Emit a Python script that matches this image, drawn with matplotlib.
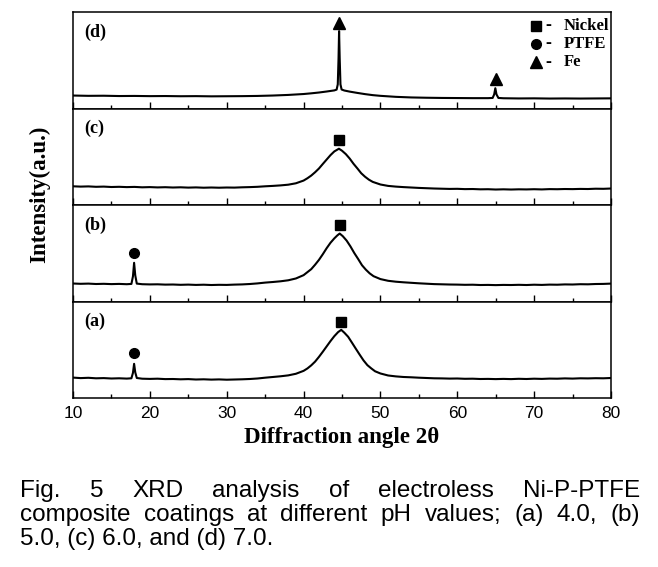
import matplotlib
matplotlib.use("Agg")
import matplotlib.pyplot as plt
from matplotlib.ticker import MultipleLocator

# ---------------- data (intensity in arbitrary units) ----------------
xa = [10, 11, 12, 13, 14, 15, 16, 17, 17.6, 17.8, 17.95, 18.1, 18.3, 19, 20, 21, 22, 23, 24, 25,
      26, 27, 28, 29, 30, 31, 32, 33, 34, 35, 36, 37, 38, 39, 40, 40.5, 41, 41.5, 42, 42.5, 43,
      43.5, 44, 44.5, 44.9, 45.3, 45.8, 46.3, 46.8, 47.3, 47.8, 48.3, 48.8, 49.3, 50, 51, 52, 53,
      54, 55, 56, 57, 58, 59, 60, 61, 62, 63, 64, 65, 66, 67, 68, 69, 70, 71, 72, 73, 74, 75, 76,
      77, 78, 79, 80]
ya = [20.3, 19.8, 20.1, 19.6, 19.8, 19.4, 19.6, 19.3, 19.6, 25.0, 34.0, 25.5, 19.9, 19.2, 19.0,
      19.2, 18.8, 18.9, 18.6, 18.8, 18.4, 18.6, 18.3, 18.5, 18.2, 18.4, 18.6, 18.9, 19.4, 20.2,
      20.9, 21.6, 22.5, 24.1, 27.0, 29.4, 32.5, 36.2, 40.9, 46.0, 51.3, 56.6, 61.5, 65.6, 67.8,
      65.0, 60.9, 55.0, 49.0, 43.1, 37.4, 32.7, 29.5, 26.6, 24.4, 22.4, 21.5, 20.9, 20.6, 20.2,
      19.9, 19.6, 19.5, 19.3, 19.4, 19.1, 19.2, 18.9, 19.0, 18.8, 19.0, 18.8, 19.1, 18.9, 19.2,
      19.0, 19.3, 19.2, 19.5, 19.3, 19.6, 19.5, 19.7, 19.6, 19.9]

xb = [10, 11, 12, 13, 14, 15, 16, 17, 17.6, 17.8, 17.95, 18.1, 18.3, 19, 20, 21, 22, 23, 24, 25,
      26, 27, 28, 29, 30, 31, 32, 33, 34, 35, 36, 37, 38, 39, 40, 40.5, 41, 41.5, 42, 42.5, 43,
      43.5, 44, 44.4, 44.7, 45.1, 45.6, 46.1, 46.6, 47.1, 47.6, 48.1, 48.6, 49.1, 50, 51, 52, 53,
      54, 55, 56, 57, 58, 59, 60, 61, 62, 63, 64, 65, 66, 67, 68, 69, 70, 71, 72, 73, 74, 75, 76,
      77, 78, 79, 80]
yb = [17.9, 17.6, 17.8, 17.4, 17.6, 17.3, 17.5, 17.2, 17.5, 25.0, 38.5, 26.0, 17.8, 17.2, 17.0,
      17.1, 16.8, 16.9, 16.6, 16.8, 16.5, 16.7, 16.4, 16.6, 16.5, 16.8, 17.0, 17.4, 18.0, 18.8,
      19.4, 20.1, 21.1, 22.9, 26.2, 29.2, 32.2, 36.6, 41.4, 47.0, 53.0, 58.4, 62.8, 65.8, 67.6,
      65.0, 60.6, 54.8, 48.2, 42.3, 36.1, 31.7, 28.0, 25.2, 22.3, 20.6, 19.7, 19.1, 18.6, 18.1,
      17.7, 17.3, 17.1, 16.9, 16.8, 16.6, 16.7, 16.4, 16.5, 16.3, 16.5, 16.4, 16.6, 16.4, 16.7,
      16.5, 16.8, 16.7, 17.0, 16.9, 17.2, 17.1, 17.4, 17.5, 17.8]

xc = [10, 11, 12, 13, 14, 15, 16, 17, 18, 19, 20, 21, 22, 23, 24, 25, 26, 27, 28, 29, 30, 31, 32,
      33, 34, 35, 36, 37, 38, 39, 40, 40.5, 41, 41.5, 42, 42.5, 43, 43.5, 44, 44.6, 45, 45.5, 46,
      46.5, 47, 47.5, 48, 48.5, 49, 50, 51, 52, 53, 54, 55, 56, 57, 58, 59, 60, 61, 62, 63, 64,
      65, 66, 67, 68, 69, 70, 71, 72, 73, 74, 75, 76, 77, 78, 79, 80]
yc = [18.6, 18.3, 18.5, 18.1, 18.3, 17.9, 18.1, 17.8, 18.0, 17.6, 17.8, 17.5, 17.7, 17.4, 17.6,
      17.3, 17.5, 17.2, 17.4, 17.2, 17.4, 17.3, 17.6, 17.8, 18.1, 18.6, 19.0, 19.5, 20.2, 21.6,
      24.3, 26.6, 29.3, 32.6, 36.3, 40.8, 45.2, 49.6, 53.3, 56.0, 54.0, 50.6, 46.2, 41.0, 36.4,
      31.6, 28.1, 25.2, 23.0, 20.4, 19.0, 18.3, 17.8, 17.4, 17.0, 16.7, 16.4, 16.2, 16.0, 16.1,
      15.8, 15.9, 15.6, 15.7, 15.4, 15.6, 15.4, 15.6, 15.5, 15.7, 15.5, 15.8, 15.7, 15.9, 15.8,
      16.0, 15.9, 16.2, 16.1, 16.4]

xd = [10, 12, 14, 16, 18, 20, 22, 24, 26, 28, 30, 32, 34, 36, 38, 40, 41, 42, 43, 44, 44.3,
      44.45, 44.55, 44.62, 44.7, 44.8, 44.95, 45.3, 46, 47, 48, 49, 50, 52, 54, 56, 58, 60, 62,
      64, 64.6, 64.8, 64.95, 65.1, 65.35, 66, 68, 70, 72, 74, 76, 78, 80]
yd = [12.9, 12.6, 12.7, 12.4, 12.5, 12.3, 12.4, 12.2, 12.3, 12.1, 12.2, 12.3, 12.5, 12.9, 13.5,
      14.4, 15.1, 15.9, 16.9, 18.0, 18.8, 24.0, 50.0, 77.0, 50.0, 24.0, 18.9, 17.9, 16.8, 15.5,
      14.3, 13.3, 12.6, 11.6, 11.0, 10.7, 10.5, 10.4, 10.3, 10.3, 10.5, 14.0, 20.2, 14.0, 10.5,
      10.2, 10.0, 10.1, 9.9, 10.0, 9.9, 10.0, 10.1]

panel_labels = ["(d)", "(c)", "(b)", "(a)"]
series = [(xd, yd), (xc, yc), (xb, yb), (xa, ya)]

# phase markers per panel: (2theta, height, marker)
markers = [
    [(44.62, 85, "^"), (65.0, 29, "^")],
    [(44.6, 64.5, "s")],
    [(18.0, 48, "o"), (44.7, 76.5, "s")],
    [(18.0, 45, "o"), (44.9, 76, "s")],
]
legend_names = ["Nickel", "PTFE", "Fe"]
legend_markers = ["s", "o", "^"]

xticks = [10, 20, 30, 40, 50, 60, 70, 80]

caption_lines = [
    "Fig. 5 XRD analysis of electroless Ni-P-PTFE",
    "composite coatings at different pH values; (a) 4.0, (b)",
    "5.0, (c) 6.0, and (d) 7.0.",
]

# ---------------- figure ----------------
W, H = 658, 567
fig = plt.figure(figsize=(W / 100, H / 100), dpi=100)
serif = "Liberation Serif"
sans = "Liberation Sans"

left_px, right_px = 73, 611
top_px, bottom_px = 12, 398
ph = (bottom_px - top_px) / 4.0

msize = {"s": 7, "o": 7, "^": 8}

axes = []
for i in range(4):
    y0 = top_px + i * ph
    ax = fig.add_axes([left_px / W, 1 - (y0 + ph) / H, (right_px - left_px) / W, ph / H])
    x, y = series[i]
    ax.plot(x, y, color="black", lw=1.5)
    ax.set_xlim(10, 80)
    ax.set_ylim(0, 96)
    ax.set_yticks([])
    ax.xaxis.set_major_locator(MultipleLocator(10))
    ax.xaxis.set_minor_locator(MultipleLocator(5))
    ax.tick_params(axis="x", which="major", direction="in", length=5, width=1, top=False)
    ax.tick_params(axis="x", which="minor", direction="in", length=3, width=1, top=False)
    for s in ax.spines.values():
        s.set_linewidth(1.1)
    if i < 3:
        ax.tick_params(axis="x", labelbottom=False)
    else:
        ax.set_xticks(xticks)
        ax.set_xticklabels([str(t) for t in xticks], fontfamily=sans, fontsize=12.5)
        ax.tick_params(axis="x", pad=6)
    ax.text(11.4, 76, panel_labels[i], fontfamily=serif, fontweight="bold", fontsize=13,
            ha="left", va="center")
    for (mx, my, mk) in markers[i]:
        ax.plot([mx], [my], marker=mk, color="black", ms=msize[mk], ls="none")
    axes.append(ax)

# legend inside top panel
axd = axes[0]
for k, (nm, mk) in enumerate(zip(legend_names, legend_markers)):
    yy = [82.5, 64.2, 45.8][k]
    axd.plot([70.25], [yy], marker=mk, color="black", ms=msize[mk], ls="none")
    axd.text(71.5, yy, "-", fontfamily=serif, fontweight="bold", fontsize=13, ha="left", va="center")
    axd.text(73.8, yy, nm, fontfamily=serif, fontweight="bold", fontsize=12, ha="left", va="center")

fig.text((left_px + right_px) / 2 / W, 1 - 438 / H, "Diffraction angle 2\u03b8",
         fontfamily=serif, fontweight="bold", fontsize=16.5, ha="center", va="center")
fig.text(40 / W, 1 - 194 / H, "Intensity(a.u.)", fontfamily=serif, fontweight="bold",
         fontsize=16.5, rotation=90, ha="center", va="center")

# justified caption
renderer = fig.canvas.get_renderer()
cap_fs = 17.5
x0, x1 = 20, 640
line_y = [491, 515, 539]
for li, line in enumerate(caption_lines):
    yy = 1 - line_y[li] / H
    if li == len(caption_lines) - 1:
        fig.text(x0 / W, yy, line, fontfamily=sans, fontsize=cap_fs, ha="left", va="center")
        continue
    words = line.split(" ")
    objs = [fig.text(0, yy, w, fontfamily=sans, fontsize=cap_fs, ha="left", va="center") for w in words]
    widths = [o.get_window_extent(renderer).width for o in objs]
    gap = (x1 - x0 - sum(widths)) / (len(words) - 1)
    cx = x0
    for o, wdt in zip(objs, widths):
        o.set_x(cx / W)
        cx += wdt + gap

fig.savefig("out.png", dpi=100)
